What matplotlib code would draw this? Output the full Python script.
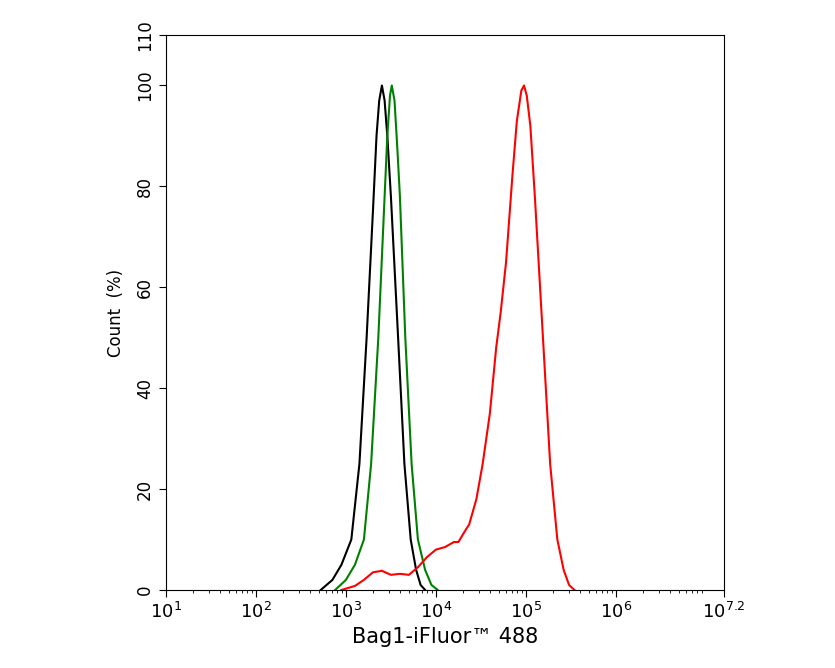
import numpy as np
import matplotlib.pyplot as plt
from matplotlib.ticker import LogLocator, NullFormatter

# log10 fluorescence, count (%)
black_log = [2.72, 2.85, 2.95, 3.06, 3.15, 3.23, 3.3, 3.34, 3.37, 3.4, 3.43, 3.46, 3.5, 3.58, 3.65, 3.72, 3.78, 3.83, 3.88]
black_y = [0, 2, 5, 10, 25, 50, 75, 90, 97, 100, 97, 90, 78, 50, 25, 10, 4, 1, 0]

green_log = [2.88, 3.0, 3.1, 3.2, 3.28, 3.36, 3.43, 3.46, 3.49, 3.51, 3.54, 3.57, 3.6, 3.66, 3.73, 3.8, 3.88, 3.95, 4.02]
green_y = [0, 2, 5, 10, 25, 50, 78, 90, 98, 100, 97, 88, 78, 50, 25, 10, 4, 1, 0]

red_log = [2.95, 3.1, 3.2, 3.3, 3.4, 3.5, 3.6, 3.7, 3.8, 3.9, 4.0, 4.1, 4.2, 4.25, 4.3, 4.37, 4.45,
           4.52, 4.6, 4.67, 4.72, 4.78, 4.85, 4.9, 4.95, 4.98, 5.01, 5.05, 5.1, 5.19, 5.27, 5.35, 5.42, 5.48, 5.54]
red_y = [0, 0.8, 2, 3.5, 3.8, 3, 3.2, 3, 4.5, 6.5, 8, 8.5, 9.5, 9.5, 11, 13, 18,
         25, 35, 48, 55, 65, 82, 93, 99, 100, 98, 92, 78, 50, 25, 10, 4, 1, 0]

xtick_exp = [1, 2, 3, 4, 5, 6, 7.2]
xtick_labels = ['$10^{1}$', '$10^{2}$', '$10^{3}$', '$10^{4}$', '$10^{5}$', '$10^{6}$', '$10^{7.2}$']
yticks = [0, 20, 40, 60, 80, 100, 110]

fig = plt.figure(figsize=(8.35, 6.68), dpi=100)
ax = fig.add_axes([0.1988, 0.1168, 0.668, 0.8308])

ax.plot(10 ** np.array(black_log), black_y, color='black', lw=1.5)
ax.plot(10 ** np.array(green_log), green_y, color='green', lw=1.5)
ax.plot(10 ** np.array(red_log), red_y, color='red', lw=1.5)

ax.set_xscale('log')
ax.set_xlim(10 ** 1, 10 ** 7.2)
ax.set_ylim(0, 110)
ax.set_xticks([10 ** e for e in xtick_exp])
ax.set_xticklabels(xtick_labels, fontsize=13)
ax.xaxis.set_minor_locator(LogLocator(base=10, subs=np.arange(2, 10), numticks=20))
ax.xaxis.set_minor_formatter(NullFormatter())
ax.set_yticks(yticks)
ax.set_yticklabels([str(v) for v in yticks], rotation=90, va='center', fontsize=12)
ax.tick_params(direction='out', length=5)
ax.tick_params(which='minor', direction='out', length=2.5)

ax.set_xlabel('Bag1-iFluor™ 488', fontsize=15)
ax.set_ylabel('Count  (%)', fontsize=12, labelpad=8)

fig.savefig('out.png', dpi=100)
